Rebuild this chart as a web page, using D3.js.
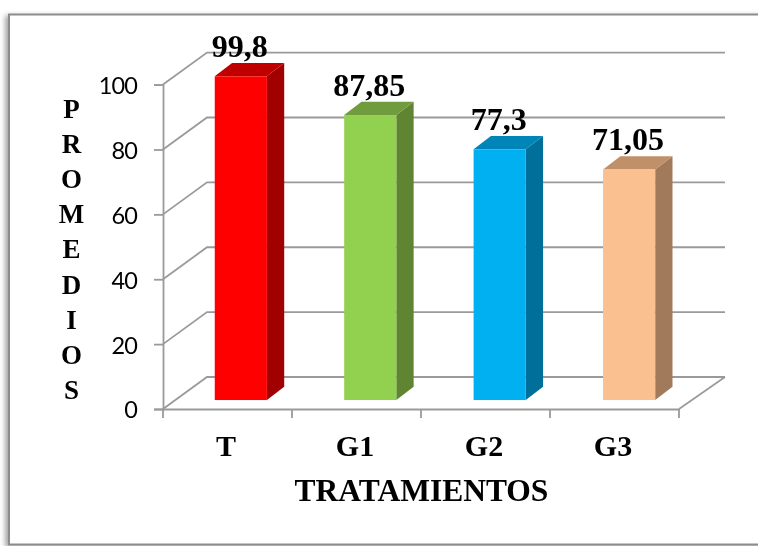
<!DOCTYPE html>
<html>
<head>
<meta charset="utf-8">
<script src="https://cdnjs.cloudflare.com/ajax/libs/d3/7.8.5/d3.min.js"></script>
<style>
  html, body { margin: 0; padding: 0; background: #fff; overflow: hidden; }
  svg { display: block; }
  text { fill: #000; }
</style>
</head>
<body>
<div id="chart"></div>
<script>
const categories = ["T", "G1", "G2", "G3"];
const promedios = [99.8, 87.85, 77.3, 71.05];
const valueLabels = ["99,8", "87,85", "77,3", "71,05"];
const yTicks = [0, 20, 40, 60, 80, 100];
const yTitle = "PROMEDIOS";
const xTitle = "TRATAMIENTOS";

const frontColors = ["#ff0000", "#92d050", "#00b0f0", "#fac090"];
const topColors = ["#c00000", "#6f9c3e", "#0085b8", "#bf9069"];
const sideColors = ["#a00000", "#5f8530", "#006f9a", "#a07a5a"];

const width = 758;
const height = 546;
const serif = '"Liberation Serif", serif';

// plot box, front edge of the floor
const plot = {left: 163, right: 679, top: 84.6, bottom: 409};
// offset of the back wall
const depth = {x: 44, y: -32};
// bars stand part way into the floor, and are this deep
const barFrom = 0.28;
const barDepth = {x: 17.3, y: -13.3};

const svg = d3.select("#chart")
              .append("svg")
              .attr("width", width)
              .attr("height", height);

const defs = svg.append("defs");
defs.append("filter").attr("id", "frameShadow")
    .attr("x", "-5%").attr("y", "-5%").attr("width", "110%").attr("height", "110%")
    .append("feDropShadow")
    .attr("dx", -3).attr("dy", 2).attr("stdDeviation", 2.5)
    .attr("flood-color", "#000").attr("flood-opacity", 0.35);
defs.append("filter").attr("id", "soft")
    .append("feGaussianBlur").attr("stdDeviation", 0.45);

const root = svg.append("g").attr("filter", "url(#soft)");

root.append("rect")
    .attr("x", 9).attr("y", 14.5)
    .attr("width", 790).attr("height", 530)
    .attr("fill", "#fff")
    .attr("stroke", "#8c8c8c")
    .attr("stroke-width", 2)
    .attr("filter", "url(#frameShadow)");

const y = d3.scaleLinear().domain([0, 100]).range([plot.bottom, plot.top]);

// band scale on the front edge, used for labels and tick marks
const x = d3.scaleBand().domain(categories).range([plot.left, plot.right]);

// same bands pushed into the floor, for the bars
const xBar = d3.scaleBand()
               .domain(categories)
               .range([plot.left + depth.x * barFrom + 0.8, plot.right + depth.x * barFrom + 2.5])
               .paddingInner(0.597)
               .paddingOuter(0.2985);

const barBase = plot.bottom + depth.y * barFrom;
const barHeight = d => plot.bottom - y(d);

// walls and grid
const grid = root.append("g")
                 .attr("fill", "none")
                 .attr("stroke", "#9a9a9a")
                 .attr("stroke-width", 1.8);

grid.selectAll("path")
    .data(yTicks)
    .join("path")
    .attr("d", d => d3.line()([
        [plot.left, y(d)],
        [plot.left + depth.x, y(d) + depth.y],
        [plot.right + depth.x + 2, y(d) + depth.y]
    ]));

grid.append("path")
    .attr("d", d3.line()([
        [plot.right + depth.x + 2, y(0) + depth.y],
        [plot.right, plot.bottom]
    ]));

// axes
const yAxis = d3.axisLeft(y)
                .tickValues(yTicks)
                .tickSize(9)
                .tickPadding(17);

const yAxisG = root.append("g")
                   .attr("transform", `translate(${plot.left},0)`)
                   .call(yAxis);
yAxisG.selectAll("path, line").attr("stroke", "#9a9a9a").attr("stroke-width", 1.8);
yAxisG.selectAll("text")
      .attr("font-family", "Lato, sans-serif")
      .attr("font-size", 23.5)
      .attr("letter-spacing", -0.9)
      .attr("fill", "#222")
      .attr("dy", "0.38em");

const xAxis = d3.axisBottom(x).tickSize(0).tickPadding(30);
const xAxisG = root.append("g")
                   .attr("transform", `translate(0,${plot.bottom})`)
                   .call(xAxis);
xAxisG.select(".domain").attr("stroke", "#9a9a9a").attr("stroke-width", 2.2);
xAxisG.selectAll("text")
      .attr("font-family", serif)
      .attr("font-weight", "bold")
      .attr("font-size", 30)
      .attr("dy", "0.55em")
      .attr("dx", -1.5);

root.append("g")
    .selectAll("line")
    .data(d3.range(categories.length + 1))
    .join("line")
    .attr("x1", i => plot.left + i * x.step())
    .attr("x2", i => plot.left + i * x.step())
    .attr("y1", plot.bottom)
    .attr("y2", plot.bottom + 9)
    .attr("stroke", "#9a9a9a")
    .attr("stroke-width", 1.8);

// bars
const bars = root.append("g")
                 .selectAll("g")
                 .data(promedios)
                 .join("g");

bars.append("path")
    .attr("fill", (d, i) => sideColors[i])
    .attr("d", (d, i) => {
        const xr = xBar(categories[i]) + xBar.bandwidth();
        const yt = barBase - barHeight(d);
        return d3.line()([
            [xr, yt],
            [xr + barDepth.x, yt + barDepth.y],
            [xr + barDepth.x, barBase + barDepth.y],
            [xr, barBase]
        ]) + "Z";
    });

bars.append("path")
    .attr("fill", (d, i) => topColors[i])
    .attr("d", (d, i) => {
        const xl = xBar(categories[i]);
        const yt = barBase - barHeight(d);
        return d3.line()([
            [xl, yt],
            [xl + barDepth.x, yt + barDepth.y],
            [xl + xBar.bandwidth() + barDepth.x, yt + barDepth.y],
            [xl + xBar.bandwidth(), yt]
        ]) + "Z";
    });

bars.append("rect")
    .attr("fill", (d, i) => frontColors[i])
    .attr("x", (d, i) => xBar(categories[i]))
    .attr("y", d => barBase - barHeight(d))
    .attr("width", xBar.bandwidth())
    .attr("height", barHeight);

// value labels
bars.append("text")
    .attr("x", (d, i) => xBar(categories[i]) + xBar.bandwidth() / 2 - 1)
    .attr("y", d => barBase - barHeight(d) - 19.5)
    .attr("text-anchor", "middle")
    .attr("font-family", serif)
    .attr("font-weight", "bold")
    .attr("font-size", 32)
    .text((d, i) => valueLabels[i]);

// vertical title, one letter per line
root.append("g")
    .selectAll("text")
    .data(yTitle.split(""))
    .join("text")
    .attr("x", 71.5)
    .attr("y", (d, i) => 118 + i * 35.1)
    .attr("text-anchor", "middle")
    .attr("font-family", serif)
    .attr("font-weight", "bold")
    .attr("font-size", 27)
    .text(d => d);

root.append("text")
    .attr("x", 421.5)
    .attr("y", 501)
    .attr("text-anchor", "middle")
    .attr("font-family", serif)
    .attr("font-weight", "bold")
    .attr("font-size", 31.5)
    .text(xTitle);
</script>
</body>
</html>
